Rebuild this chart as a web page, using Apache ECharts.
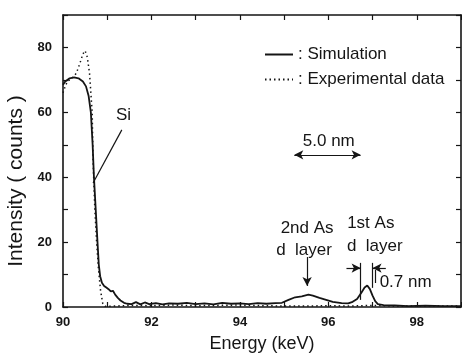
<!DOCTYPE html>
<html>
<head>
<meta charset="utf-8">
<script src="https://cdn.jsdelivr.net/npm/echarts@6/dist/echarts.min.js"></script>
<style>
  html, body { margin: 0; padding: 0; background: #fff; }
  #chart { width: 462px; height: 359px; }
</style>
</head>
<body>
<div id="chart"></div>
<script>
// energy (keV) / intensity (counts)
const simEnergy = [90.0, 90.05, 90.15, 90.25, 90.35, 90.45, 90.52, 90.58, 90.63, 90.67, 90.7, 90.74, 90.78, 90.81, 90.84, 90.88, 90.93, 90.98, 91.03, 91.08, 91.13, 91.18, 91.24, 91.3, 91.38, 91.45,
  91.55, 91.65, 91.75, 91.85, 91.95, 92.1, 92.25, 92.4, 92.6, 92.8, 93.0, 93.2, 93.4, 93.6, 93.8, 94.0, 94.2, 94.4, 94.6, 94.8, 94.95,
  95.1, 95.25, 95.4, 95.55, 95.65, 95.8, 95.95, 96.1, 96.3, 96.45, 96.55, 96.65, 96.75, 96.82, 96.88, 96.94, 97.0, 97.06, 97.12, 97.25, 97.5, 97.8, 98.2, 98.6, 99.0]
const simIntensity = [68.5, 69.5, 70.5, 70.8, 70.5, 69.5, 68, 65, 60, 50, 40, 30, 20, 13, 9.5, 7.5, 6.5, 6, 5.5, 4.8, 5, 3.8, 2.8, 2, 1.3, 1,
  0.9, 1.5, 0.8, 1.4, 0.9, 1.2, 0.8, 1.1, 1.0, 1.3, 0.9, 1.1, 0.8, 1.3, 1.0, 1.1, 0.9, 1.2, 1.0, 1.2, 1.3,
  2.2, 3.0, 3.3, 3.8, 3.5, 2.8, 2.2, 1.6, 1.2, 1.1, 1.6, 2.5, 4.5, 6.0, 6.6, 5.5, 3.5, 1.8, 0.9, 0.6, 0.5, 0.3, 0.4, 0.3, 0.3]

const expEnergy = [90.0, 90.05, 90.1, 90.2, 90.3, 90.38, 90.45, 90.5, 90.55, 90.6, 90.63, 90.66, 90.68, 90.72, 90.76, 90.8, 90.85, 90.9, 90.95,
  91.2, 91.5, 92.0, 92.5, 93.0, 93.5, 94.0, 94.5, 95.0, 95.5, 96.0, 96.5, 97.0, 97.5, 98.0, 98.5, 99.0]
const expIntensity = [66, 68, 69.5, 70.5, 72, 75, 78, 79, 77, 72, 66, 60, 45, 30, 20, 12, 5, 1, 0.2,
  0.3, 0.5, 0.4, 0.6, 0.4, 0.5, 0.6, 0.4, 0.3, 0.3, 0.4, 0.3, 0.5, 0.3, 0.3, 0.3, 0.3]

const xTicks = [90, 92, 94, 96, 98]
const yTicks = [0, 20, 40, 60, 80]

const zip = (xs, ys) => xs.map((x, i) => [x, ys[i]])
const ink = '#151515'
const font = 'Liberation Sans, Arial, sans-serif'

const chart = echarts.init(document.getElementById('chart'))

const axisCommon = {
  axisLine: { show: true, onZero: false, lineStyle: { color: ink, width: 1.6 } },
  axisTick: { show: true, inside: true, length: 5, lineStyle: { color: ink, width: 1.2 } },
  splitLine: { show: false }
}

const option = {
  animation: false,
  backgroundColor: '#fff',
  grid: { left: 63, right: 1, top: 15, bottom: 52, outerBoundsMode: 'none' },
  legend: {
    orient: 'vertical',
    left: 259,
    top: 41,
    itemWidth: 28,
    itemHeight: 10,
    itemGap: 8,
    selectedMode: false,
    // hide the symbol dot, keep the line sample
    itemStyle: { opacity: 0 },
    textStyle: { fontFamily: font, fontSize: 17, color: ink },
    formatter: (name) => ': ' + name,
    data: ['Simulation', 'Experimental data']
  },
  xAxis: [
    {
      ...axisCommon,
      type: 'value', min: 90, max: 99, interval: 1,
      name: 'Energy (keV)', nameLocation: 'middle', nameGap: 28,
      nameTextStyle: { fontFamily: font, fontSize: 18, color: ink },
      axisLabel: {
        margin: 9, fontFamily: font, fontSize: 13, fontWeight: 'bold', color: ink,
        formatter: (v) => xTicks.includes(v) ? String(v) : ''
      }
    },
    {
      ...axisCommon,
      type: 'value', min: 90, max: 99, interval: 1, position: 'top',
      axisLabel: { show: false }
    }
  ],
  yAxis: [
    {
      ...axisCommon,
      type: 'value', min: 0, max: 90, interval: 10,
      name: 'Intensity ( counts )', nameLocation: 'middle', nameGap: 25,
      nameTextStyle: { fontFamily: font, fontSize: 21, color: ink, padding: [0, 40, 0, 0] },
      axisLabel: {
        margin: 11, fontFamily: font, fontSize: 13, fontWeight: 'bold', color: ink,
        formatter: (v) => yTicks.includes(v) ? String(v) : ''
      }
    },
    {
      ...axisCommon,
      type: 'value', min: 0, max: 90, interval: 10, position: 'right',
      axisLabel: { show: false }
    }
  ],
  series: [
    {
      name: 'Simulation',
      type: 'line',
      data: zip(simEnergy, simIntensity),
      showSymbol: false,
      symbol: 'none',
      color: ink,
      lineStyle: { color: ink, width: 1.8 },
      markLine: {
        silent: true,
        symbol: ['none', 'none'],
        symbolSize: [7, 9],
        label: { show: false },
        lineStyle: { color: ink, width: 1.2, type: 'solid' },
        data: [
          [{ coord: [91.33, 54.6] }, { coord: [90.68, 38.2] }],
          [{ coord: [95.23, 46.9], symbol: 'arrow' }, { coord: [96.73, 46.9], symbol: 'arrow' }],
          [{ coord: [95.52, 15.4] }, { coord: [95.52, 6.5], symbol: 'arrow' }],
          [{ coord: [96.73, 13.6] }, { coord: [96.73, 2.2] }],
          [{ coord: [97.0, 13.6] }, { coord: [97.0, 5.9] }],
          [{ coord: [96.41, 12] }, { coord: [96.73, 12], symbol: 'arrow' }],
          [{ coord: [97.3, 12] }, { coord: [97.0, 12], symbol: 'arrow' }],
          [{ coord: [97.07, 11.4] }, { coord: [97.07, 7.4] }]
        ]
      }
    },
    {
      name: 'Experimental data',
      type: 'line',
      data: zip(expEnergy, expIntensity),
      showSymbol: false,
      symbol: 'none',
      color: ink,
      lineStyle: { color: ink, width: 1.5, type: [1.5, 3] }
    }
  ]
}

chart.setOption(option)

// text annotations placed in data coordinates
const notes = [
  { text: 'Si', at: [91.37, 59.1], align: 'center' },
  { text: '5.0 nm', at: [96.01, 51.2], align: 'center' },
  { text: '2nd As', at: [95.52, 24.3], align: 'center' },
  { text: 'd  layer', at: [95.45, 17.6], align: 'center' },
  { text: '1st As', at: [96.96, 25.9], align: 'center' },
  { text: 'd  layer', at: [97.05, 18.8], align: 'center' },
  { text: '0.7 nm', at: [97.16, 7.7], align: 'left' }
]

chart.setOption({
  graphic: notes.map((n) => {
    const [x, y] = chart.convertToPixel({ xAxisIndex: 0, yAxisIndex: 0 }, n.at)
    return {
      type: 'text',
      x, y,
      silent: true,
      style: {
        text: n.text,
        fill: ink,
        font: '17px ' + font,
        textAlign: n.align,
        textVerticalAlign: 'middle'
      }
    }
  })
})
</script>
</body>
</html>
